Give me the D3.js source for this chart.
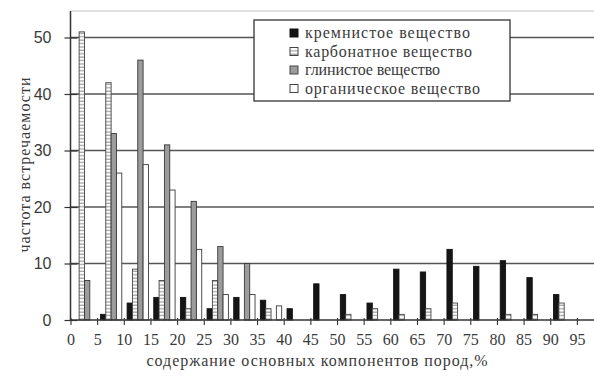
<!DOCTYPE html>
<html>
<head>
<meta charset="utf-8">
<script src="https://cdn.jsdelivr.net/npm/d3@7"></script>
<style>
  body { margin: 0; background: #fff; }
  svg { display: block; }
</style>
</head>
<body>
<svg id="chart" width="594" height="382"></svg>
<script>
// Bin lower edges (% content) and their tick labels
const bins = [0, 5, 10, 15, 20, 25, 30, 35, 40, 45, 50, 55, 60, 65, 70, 75, 80, 85, 90, 95];
const tickLabels = ["0", "5", "10", "15", "20", "25", "30", "35", "40", "45",
                    "50", "55", "60", "65", "70", "75", "80", "85", "90", "95"];
const yTicks = [0, 10, 20, 30, 40, 50];

// Frequency of occurrence per bin for each rock component
const seriesNames = ["кремнистое вещество", "карбонатное вещество", "глинистое вещество", "органическое вещество"];
const siliceous = [0, 1, 3, 4, 4, 2, 4, 3.5, 2, 6.4, 4.5, 3, 9, 8.5, 12.5, 9.5, 10.5, 7.5, 4.5, 0];
const carbonate = [51, 42, 9, 7, 2, 7, 0, 2, 0, 0, 1, 2, 1, 2, 3, 0, 1, 1, 3, 0];
const clay      = [7, 33, 46, 31, 21, 13, 10, 0, 0, 0, 0, 0, 0, 0, 0, 0, 0, 0, 0, 0];
const organic   = [0, 26, 27.5, 23, 12.5, 4.5, 4.5, 2.5, 0, 0, 0, 0, 0, 0, 0, 0, 0, 0, 0, 0];

const seriesValues = [siliceous, carbonate, clay, organic];
const seriesFill = ["#151515", "url(#hatch)", "#9c9c9c", "#ffffff"];
const seriesStroke = ["#111", "#444", "#3a3a3a", "#3a3a3a"];

const svg = d3.select("#chart");
const W = 594, H = 382;
const plotTop = 11, plotLeft = 70.5;

// Horizontal hatching used by the carbonate bars
const defs = svg.append("defs");
const pat = defs.append("pattern")
  .attr("id", "hatch").attr("patternUnits", "userSpaceOnUse")
  .attr("width", 6).attr("height", 3.4);
pat.append("rect").attr("width", 6).attr("height", 3.4).attr("fill", "#fff");
pat.append("rect").attr("y", 2.2).attr("width", 6).attr("height", 1).attr("fill", "#8a8a8a");

const x = d3.scaleLinear().domain([0, 95]).range([plotLeft, 576.9]);
const y = d3.scaleLinear().domain([0, 50]).range([320, 37.5]);
const binW = x(5) - x(0);
const inner = d3.scaleBand().domain(d3.range(4)).range([3.3, 3.3 + binW * 0.8]).padding(0);

// Plot frame top edge
svg.append("line")
  .attr("x1", plotLeft).attr("x2", W).attr("y1", plotTop).attr("y2", plotTop)
  .attr("stroke", "#c4c4c4").attr("stroke-width", 1.2);

// Horizontal gridlines
svg.append("g").selectAll("line")
  .data(yTicks.filter(v => v > 0))
  .join("line")
  .attr("x1", plotLeft).attr("x2", W)
  .attr("y1", d => y(d)).attr("y2", d => y(d))
  .attr("stroke", "#555").attr("stroke-width", 1.3);

// Bars
const groups = svg.append("g").selectAll("g")
  .data(bins)
  .join("g")
  .attr("transform", d => `translate(${x(d)},0)`);

groups.each(function (b, i) {
  const g = d3.select(this);
  seriesValues.forEach((vals, s) => {
    const v = vals[i];
    if (!v) return;
    g.append("rect")
      .attr("x", inner(s))
      .attr("y", y(v))
      .attr("width", inner.bandwidth())
      .attr("height", y(0) - y(v))
      .attr("fill", seriesFill[s])
      .attr("stroke", seriesStroke[s])
      .attr("stroke-width", 0.9);
  });
});

// Y axis with crossing ticks
const yAxis = svg.append("g")
  .attr("transform", `translate(${plotLeft},0)`)
  .call(d3.axisLeft(y).tickValues(yTicks).tickSize(6).tickPadding(13));
yAxis.select(".domain").remove();
yAxis.selectAll(".tick line").attr("x1", 7).attr("x2", -6).attr("stroke", "#333").attr("stroke-width", 1.2);
yAxis.selectAll(".tick text")
  .attr("font-family", "'Liberation Sans', Arial, sans-serif")
  .attr("font-size", 16).attr("fill", "#3a3a3a");
svg.append("line")
  .attr("x1", plotLeft).attr("x2", plotLeft).attr("y1", plotTop).attr("y2", y(0))
  .attr("stroke", "#333").attr("stroke-width", 1.5);

// X axis
const xAxis = svg.append("g")
  .attr("transform", `translate(0,${y(0)})`)
  .call(d3.axisBottom(x).tickValues(bins).tickSize(5).tickPadding(9)
    .tickFormat((d, i) => tickLabels[i]));
xAxis.select(".domain").remove();
xAxis.selectAll(".tick line").attr("y1", -2).attr("stroke", "#333").attr("stroke-width", 1.1);
xAxis.selectAll(".tick text")
  .attr("font-family", "'Liberation Serif', 'Times New Roman', serif")
  .attr("font-size", 16).attr("fill", "#3a3a3a");
svg.append("line")
  .attr("x1", plotLeft).attr("x2", W).attr("y1", y(0)).attr("y2", y(0))
  .attr("stroke", "#333").attr("stroke-width", 1.5);

// Axis titles
svg.append("text")
  .attr("x", 317).attr("y", 366)
  .attr("text-anchor", "middle")
  .attr("font-family", "'Liberation Serif', 'Times New Roman', serif")
  .attr("font-size", 16).attr("fill", "#3a3a3a")
  .attr("textLength", 341).attr("lengthAdjust", "spacing")
  .text("содержание основных компонентов пород,%");

svg.append("text")
  .attr("transform", "translate(30,165) rotate(-90)")
  .attr("text-anchor", "middle")
  .attr("font-family", "'Liberation Serif', 'Times New Roman', serif")
  .attr("font-size", 16).attr("fill", "#3a3a3a")
  .attr("textLength", 175).attr("lengthAdjust", "spacing")
  .text("частота встречаемости");

// Legend
const legend = svg.append("g");
legend.append("rect")
  .attr("x", 254).attr("y", 20).attr("width", 256).attr("height", 81)
  .attr("fill", "#fff").attr("stroke", "#333").attr("stroke-width", 1.3);
const legendW = [165, 167, 135, 175];
const rows = legend.selectAll("g.item")
  .data(seriesNames)
  .join("g").attr("class", "item")
  .attr("transform", (d, i) => `translate(290,${33 + i * 18.5})`);
rows.append("rect")
  .attr("x", 0).attr("y", -4).attr("width", 8).attr("height", 8)
  .attr("fill", (d, i) => seriesFill[i])
  .attr("stroke", (d, i) => i === 0 ? "#111" : "#444").attr("stroke-width", 1);
rows.append("text")
  .attr("x", 15).attr("y", 5)
  .attr("font-family", "'Liberation Serif', 'Times New Roman', serif")
  .attr("font-size", 16).attr("fill", "#3a3a3a")
  .attr("textLength", (d, i) => legendW[i]).attr("lengthAdjust", "spacing")
  .text(d => d);
</script>
</body>
</html>
